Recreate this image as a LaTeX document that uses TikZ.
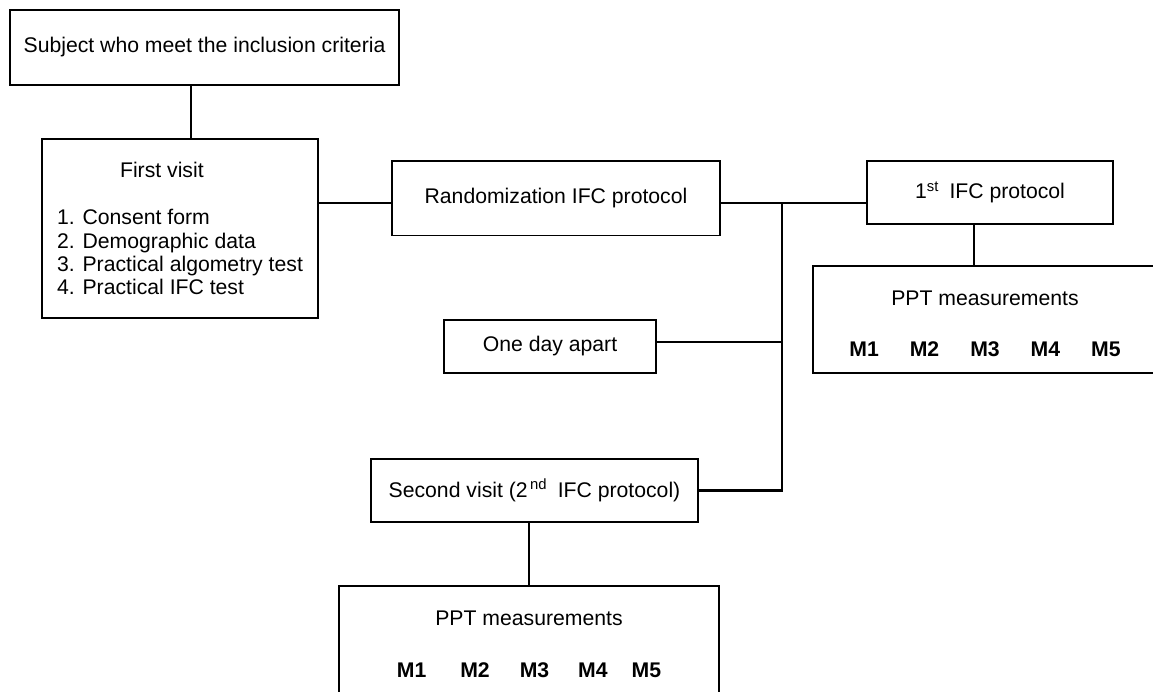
\documentclass[tikz,border=0pt]{standalone}
\usepackage{fontspec}
\setmainfont{Liberation Sans}
\begin{document}
\begin{tikzpicture}[x=1pt, y=-1pt, font=\fontsize{21.2}{23.3}\selectfont,
		kasten/.style={draw, line width=1.8pt, inner sep=0pt, align=center},
		linie/.style={line width=2.2pt}]
			%Bildbereich
			\useasboundingbox (0,0) rectangle (1153,692);
			\clip (0,0) rectangle (1153,692);
			%Kaesten zeichnen
			\node[kasten, minimum width=389pt, minimum height=75pt] (subj) at (204.5,47.5) {Subject who meet the inclusion criteria};
			\node[kasten, minimum width=276pt, minimum height=179pt, align=left] (first) at (180,228.5) {\hspace*{63pt}First visit\\[24pt]1. Consent form\\2. Demographic data\\3. Practical algometry test\\4. Practical IFC test};
			\node[kasten, minimum width=328pt, minimum height=74.5pt] (rand) at (556,198.3) {Randomization IFC protocol};
			\node[kasten, minimum width=246pt, minimum height=63pt] (ifc1) at (990,192.5) {1\textsuperscript{st}\enspace IFC protocol};
			\node[kasten, minimum width=344pt, minimum height=107pt] (ppt1) at (985,319.5) {\rule{0pt}{23pt}PPT measurements\\[28pt]\textbf{M1\hspace{31pt}M2\hspace{31pt}M3\hspace{31pt}M4\hspace{31pt}M5}};
			\node[kasten, minimum width=212pt, minimum height=53pt] (day) at (550,346.5) {One day apart};
			\node[kasten, minimum width=327pt, minimum height=63pt] (visit2) at (534.5,490.5) {Second visit (2\textsuperscript{\,nd}\enspace IFC protocol)};
			\node[kasten, minimum width=380pt, minimum height=108pt] (ppt2) at (529,640) {\rule{0pt}{23pt}PPT measurements\\[28pt]\textbf{M1\hspace{34pt}M2\hspace{30pt}M3\hspace{29pt}M4\hspace{24pt}M5}};
			%Verbindungen zeichnen
			\coordinate (j1) at (782,203);
			\draw[linie] ([xshift=11pt]first.north) -- ([xshift=11pt]first.north |- subj.south);
			\draw[linie] (first.east |- j1) -- (rand.west |- j1);
			\draw[linie] (rand.east |- j1) -- (ifc1.west |- j1);
			\draw[linie] ([xshift=-16pt]ifc1.south) -- ([xshift=-16pt]ifc1.south |- ppt1.north);
			\draw[linie] (j1) -- (j1 |- visit2.east) -- (visit2.east);
			\draw[linie] ([yshift=4.5pt]day.east) -- ([yshift=4.5pt]day.east -| j1);
			\draw[linie] (ppt2.north) -- (ppt2.north |- visit2.south);
		\end{tikzpicture}
\end{document}
